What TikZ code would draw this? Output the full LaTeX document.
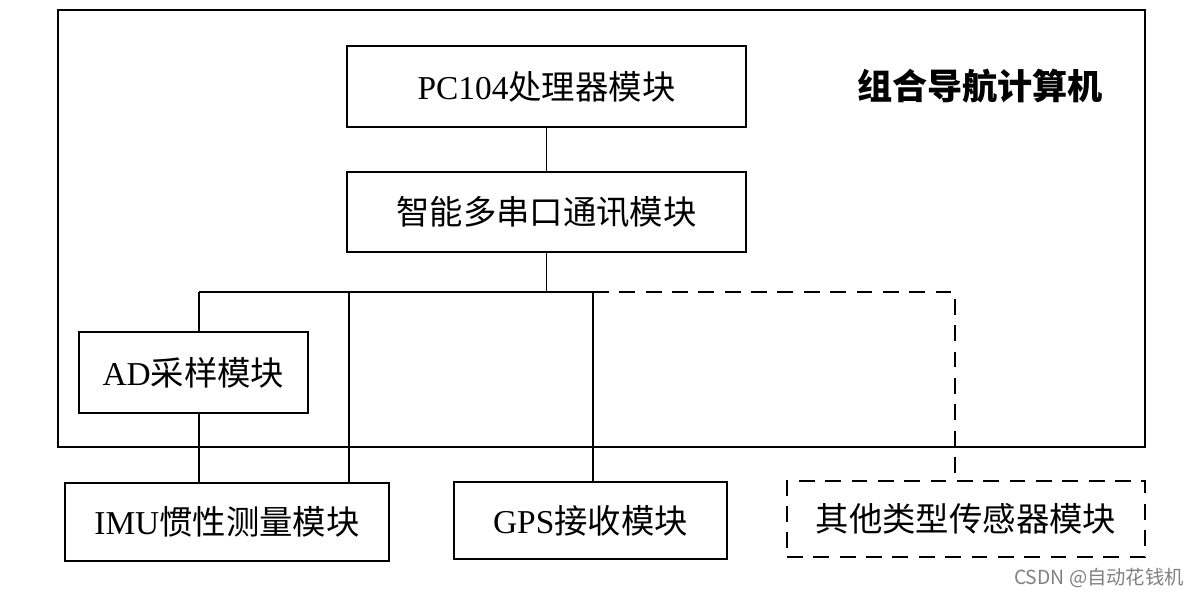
\documentclass[tikz,border=0pt]{standalone}
\usepackage{fontspec}
\setmainfont{Liberation Serif}
\newfontfamily\cjk{Noto Sans CJK SC}
\newcommand{\zh}[1]{{\cjk #1}}
\usetikzlibrary{positioning}

\begin{document}
\begin{tikzpicture}[x=0.02cm, y=-0.02cm, line width=1.1pt,
    modbox/.style={draw, inner sep=0pt, font=\fontsize{19}{22}\selectfont},
    optline/.style={dash pattern=on 9pt off 6pt}]
    \useasboundingbox (0,0) rectangle (1200,597);
    % navigation computer frame
    \node[draw, minimum width=21.74cm, minimum height=8.74cm] (nav) at (601.5,228.5) {};
    \node[font=\cjk\bfseries\fontsize{20}{24}\selectfont] (navlabel) at (980,86) {组合导航计算机};
    % modules
    \node[modbox, minimum width=7.98cm, minimum height=1.62cm] (pc) at (546.5,86.5) {PC104\zh{处理器模块}};
    \node[modbox, minimum width=7.98cm, minimum height=1.6cm] (ser) at (546.5,212) {\zh{智能多串口通讯模块}};
    \node[modbox, minimum width=4.58cm, minimum height=1.62cm] (ad) at (193.5,372.5) {AD\zh{采样模块}};
    \node[modbox, minimum width=6.48cm, minimum height=1.56cm] (imu) at (227,522) {IMU\zh{惯性测量模块}};
    \node[modbox, minimum width=5.46cm, minimum height=1.54cm] (gps) at (590.5,520.5) {GPS\zh{接收模块}};
    \node[modbox, optline, minimum width=7.16cm, minimum height=1.52cm] (oth) at (966,519) {\zh{其他类型传感器模块}};
    % bus
    \coordinate (busl) at (199,292);
    \coordinate (busimu) at (349,292);
    \coordinate (busgps) at (593,292);
    \coordinate (busr) at (955,292);
    \draw (pc) -- (ser);
    \draw (ser.south) -- (ser.south |- busl);
    \draw (busl) -- (busgps);
    \draw[optline] (busgps) -- (busr) -- (busr |- oth.north);
    \draw (busl) -- (busl |- ad.north);
    \draw (busl |- ad.south) -- (busl |- imu.north);
    \draw (busimu) -- (busimu |- imu.north);
    \draw (busgps) -- (busgps |- gps.north);
    % watermark
    \node[text=gray, font=\cjk\fontsize{11}{13}\selectfont] (mark) at (1099,578) {CSDN @自动花钱机};
\end{tikzpicture}
\end{document}
